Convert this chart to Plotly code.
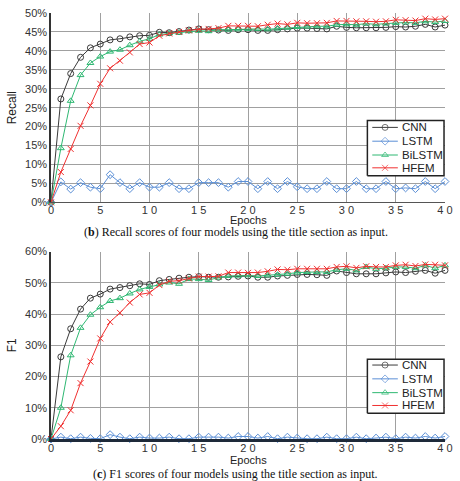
import plotly.graph_objects as go

epochs = list(range(0, 41))

recall_cnn = [0, 27.3, 34.0, 38.3, 40.8, 41.8, 42.9, 43.2, 43.7, 44.0, 44.1, 44.9, 44.8, 45.1, 45.5, 45.8, 45.6, 45.5,
              45.4, 45.6, 45.6, 45.4, 45.4, 45.6, 45.8, 46.0, 46.0, 45.9, 45.8, 46.5, 46.2, 46.1, 46.1, 46.1, 46.2,
              46.4, 46.3, 46.5, 47.0, 46.3, 46.8]
recall_lstm = [0, 5.4, 3.5, 5.2, 4.0, 3.6, 7.3, 5.2, 3.6, 5.2, 4.0, 4.0, 5.2, 3.6, 3.6, 5.2, 5.2, 5.2,
               4.0, 5.5, 5.5, 3.6, 5.5, 3.6, 5.5, 4.1, 3.6, 3.6, 5.5, 3.6, 3.6, 5.5, 3.6, 3.6, 5.5,
               3.6, 3.8, 3.6, 5.5, 3.6, 5.5]
recall_bilstm = [0, 14.3, 26.8, 33.6, 36.8, 38.5, 39.8, 40.3, 41.5, 42.5, 43.2, 44.3, 44.6, 44.8, 45.2, 45.3, 45.2, 45.6,
                 45.6, 45.7, 45.8, 45.8, 45.7, 45.9, 46.1, 46.3, 46.4, 46.5, 46.5, 46.9, 47.0, 46.9, 47.2, 47.0, 47.2,
                 47.4, 47.5, 47.4, 47.8, 47.6, 47.9]
recall_hfem = [0, 8.0, 14.1, 20.2, 25.6, 31.3, 35.4, 37.4, 39.6, 41.8, 42.2, 44.0, 44.6, 45.0, 45.4, 45.7, 45.8, 46.0,
               46.6, 46.6, 46.6, 46.5, 46.9, 47.2, 47.0, 47.4, 47.3, 47.3, 47.4, 47.9, 47.9, 47.8, 47.8, 47.7, 47.8,
               48.2, 48.1, 48.0, 48.5, 48.3, 48.5]

f1_cnn = [0, 26.3, 35.3, 41.6, 45.1, 46.4, 48.0, 48.5, 49.1, 49.7, 49.5, 50.7, 51.1, 51.5, 51.8, 52.0, 51.8, 51.8,
          51.9, 52.1, 52.2, 51.8, 51.8, 52.2, 52.4, 52.7, 52.7, 52.6, 52.4, 53.8, 53.3, 52.9, 52.9, 52.9, 53.2,
          53.5, 53.3, 53.7, 54.0, 53.1, 54.0]
f1_lstm = [0, 0.6, 0.1, 0.6, 0.2, 0.1, 1.4, 0.6, 0.1, 0.6, 0.3, 0.3, 0.6, 0.1, 0.1, 0.6, 0.6, 0.6,
           0.3, 0.8, 0.8, 0.3, 0.8, 0.1, 0.6, 0.3, 0.1, 0.1, 0.6, 0.1, 0.1, 0.6, 0.1, 0.3, 0.6,
           0.1, 0.6, 0.3, 0.8, 0.3, 0.8]
f1_bilstm = [0, 10.0, 26.8, 35.6, 39.8, 42.2, 44.2, 45.1, 46.6, 47.9, 48.7, 49.5, 50.1, 49.7, 51.2, 51.2, 50.9, 51.7,
             52.2, 52.3, 52.4, 52.2, 52.4, 52.6, 52.9, 53.3, 53.5, 53.5, 53.5, 54.2, 54.5, 54.0, 55.1, 54.5, 54.7,
             55.1, 55.1, 54.7, 55.6, 54.7, 55.6]
f1_hfem = [0, 4.1, 9.2, 17.9, 24.8, 32.2, 37.5, 40.4, 43.7, 46.3, 46.8, 49.3, 50.5, 50.7, 51.4, 52.0, 52.0, 52.1,
           53.3, 53.3, 53.2, 53.3, 53.7, 54.3, 54.2, 54.5, 54.5, 54.5, 54.5, 55.1, 55.3, 54.8, 55.3, 55.1, 55.1,
           55.6, 55.8, 55.4, 55.9, 55.8, 55.6]

series_names = ["CNN", "LSTM", "BiLSTM", "HFEM"]
x_tickvals = [0, 5, 10, 15, 20, 25, 30, 35, 40]
x_ticktext = ["0", "5", "1 0", "1 5", "2 0", "2 5", "3 0", "3 5", "4 0"]

styles = {
    "CNN": dict(color="#3a3a3a", symbol="circle-open", size=6),
    "LSTM": dict(color="#5b8fd6", symbol="diamond-open", size=6),
    "BiLSTM": dict(color="#2eb872", symbol="triangle-up-open", size=6),
    "HFEM": dict(color="#f03030", symbol="x-thin", size=6),
}

H_TOT = 432.0   # plot-area height in px (481 - 7 - 42)
W_TOT = 401.0   # plot-area width in px (460 - 51 - 8)
X_RANGE = [0, 40]
TOP_RANGE = [0, 50]
BOT_RANGE = [0, 60]
TOP_PX = (7, 199)     # pixel rows of top plot (top edge, bottom edge)
BOT_PX = (249, 439)


def px_y(y):
    return (439 - y) / H_TOT


def px_x(x):
    return (x - 51) / W_TOT


def dx(px):
    return X_RANGE[0] + (px - 51) / W_TOT * (X_RANGE[1] - X_RANGE[0])


def dy(py, rng, pxr):
    return rng[0] + (pxr[1] - py) / (pxr[1] - pxr[0]) * (rng[1] - rng[0])


legend_boxes = [
    dict(xa="x", ya="y", rng=TOP_RANGE, pxr=TOP_PX,
         left=373, right=451, top=116, bottom=172, rows=[123, 137, 151, 164]),
    dict(xa="x2", ya="y2", rng=BOT_RANGE, pxr=BOT_PX,
         left=373, right=451, top=358, bottom=413, rows=[364, 378, 392, 405]),
]

fig = go.Figure()

# legend frames: white filled rectangles, drawn first so they sit above the gridlines
for box in legend_boxes:
    bx0, bx1 = dx(box["left"]), dx(box["right"])
    by0 = dy(box["bottom"], box["rng"], box["pxr"])
    by1 = dy(box["top"], box["rng"], box["pxr"])
    fig.add_trace(go.Scatter(
        x=[bx0, bx1, bx1, bx0, bx0], y=[by0, by0, by1, by1, by0], mode="lines",
        fill="toself", fillcolor="white", line=dict(color="#222", width=1.5),
        xaxis=box["xa"], yaxis=box["ya"], showlegend=False, hoverinfo="skip"))

top = [recall_cnn, recall_lstm, recall_bilstm, recall_hfem]
bot = [f1_cnn, f1_lstm, f1_bilstm, f1_hfem]


def add_series(ys_list, xa, ya):
    for name, ys in zip(series_names, ys_list):
        s = styles[name]
        fig.add_trace(go.Scatter(
            x=epochs, y=ys, name=name, mode="lines+markers", xaxis=xa, yaxis=ya,
            line=dict(color=s["color"], width=1),
            marker=dict(symbol=s["symbol"], size=s["size"], color=s["color"],
                        line=dict(color=s["color"], width=1)),
            cliponaxis=False, showlegend=False))


add_series(top, "x", "y")
add_series(bot, "x2", "y2")

annotations = []
for box in legend_boxes:
    for name, ry in zip(series_names, box["rows"]):
        s = styles[name]
        yv = dy(ry, box["rng"], box["pxr"])
        fig.add_trace(go.Scatter(
            x=[dx(378), dx(391), dx(404)], y=[yv, yv, yv], mode="lines+markers",
            xaxis=box["xa"], yaxis=box["ya"],
            line=dict(color=s["color"], width=1),
            marker=dict(symbol=s["symbol"], size=[0, s["size"], 0], color=s["color"],
                        line=dict(color=s["color"], width=1)),
            cliponaxis=False, showlegend=False, hoverinfo="skip"))
        annotations.append(dict(text=name, xref=box["xa"], yref=box["ya"], x=dx(406), y=yv,
                                xanchor="left", yanchor="middle", showarrow=False,
                                font=dict(family="Liberation Sans, Arial", size=11.5, color="#222")))

axis_font = dict(family="Liberation Sans, Arial, sans-serif", size=11, color="#333")
common_x = dict(range=X_RANGE, tickvals=x_tickvals, ticktext=x_ticktext, showgrid=True,
                gridcolor="#a0a0a0", gridwidth=1, zeroline=False, tickfont=axis_font,
                ticks="", ticklabelstandoff=-3)
common_y = dict(showgrid=True, gridcolor="#a0a0a0", gridwidth=1, zeroline=False,
                ticksuffix="%", tickfont=axis_font, showline=True, linecolor="#333", linewidth=1.5,
                ticks="")

layout = dict(
    width=460, height=481,
    margin=dict(l=51, r=8, t=7, b=42),
    paper_bgcolor="white", plot_bgcolor="white",
    showlegend=False,
    xaxis=dict(common_x, anchor="y", domain=[0, 1], showline=True, linecolor="#555", linewidth=1),
    yaxis=dict(common_y, range=TOP_RANGE, dtick=5, domain=[px_y(TOP_PX[1]), px_y(TOP_PX[0])],
               title=dict(text="Recall", font=dict(family="Liberation Sans, Arial", size=12, color="#222"),
                          standoff=6)),
    xaxis2=dict(common_x, anchor="y2", domain=[0, 1], showline=True, linecolor="#1e2a3a", linewidth=2.5),
    yaxis2=dict(common_y, range=BOT_RANGE, dtick=10, domain=[px_y(BOT_PX[1]), px_y(BOT_PX[0])],
                title=dict(text="F1", font=dict(family="Liberation Sans, Arial", size=12, color="#222"),
                           standoff=6)),
)

annotations += [
    dict(text="Epochs", xref="paper", yref="paper", x=0.5, y=px_y(217), xanchor="center", yanchor="middle",
         showarrow=False, font=dict(family="Liberation Sans, Arial", size=11, color="#222")),
    dict(text="Epochs", xref="paper", yref="paper", x=0.5, y=px_y(460), xanchor="center", yanchor="middle",
         showarrow=False, font=dict(family="Liberation Sans, Arial", size=11, color="#222")),
    dict(text="(<b>b</b>) Recall scores of four models using the title section as input.",
         xref="paper", yref="paper", x=px_x(239), y=px_y(229), xanchor="center", yanchor="middle",
         showarrow=False, font=dict(family="Liberation Serif, Times New Roman, serif", size=12, color="#111")),
    dict(text="(<b>c</b>) F1 scores of four models using the title section as input.",
         xref="paper", yref="paper", x=px_x(239), y=px_y(475), xanchor="center", yanchor="middle",
         showarrow=False, font=dict(family="Liberation Serif, Times New Roman, serif", size=12, color="#111")),
]
layout["annotations"] = annotations

fig.update_layout(**layout)
fig.write_html("out.html")
